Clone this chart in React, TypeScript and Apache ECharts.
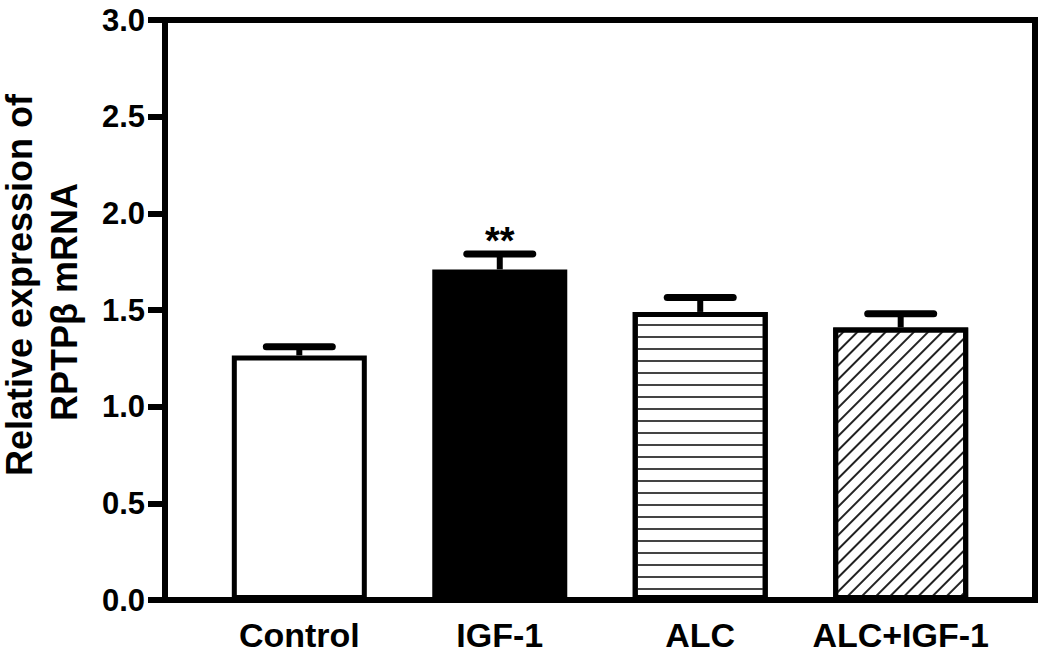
import React, { useEffect, useRef } from "react";
import * as echarts from "echarts";

const categories = ["Control", "IGF-1", "ALC", "ALC+IGF-1"];
const means = [1.265, 1.71, 1.49, 1.41];
const sems = [0.045, 0.08, 0.075, 0.07];
const significance = ["", "**", "", ""];
const yTitleLines = ["Relative expression of", "RPTPβ mRNA"];

const FONT = "'Liberation Sans', Arial, Helvetica, sans-serif";

export default function App() {
  const ref = useRef<HTMLDivElement>(null);
  useEffect(() => {
    document.body.style.margin = "0";
    const chart = echarts.init(ref.current!, null, { renderer: "svg" });
    const positions = categories.map((_, i) => i + 1);
    const barStyles = [
      { color: "#ffffff" },
      { color: "#000000" },
      {
        color: "#ffffff",
        decal: {
          symbol: "rect",
          symbolSize: 1,
          dashArrayX: [1, 0],
          dashArrayY: [1.3, 9.7],
          rotation: 0,
          color: "#444444",
          backgroundColor: "#ffffff",
        },
      },
      {
        color: "#ffffff",
        decal: {
          symbol: "rect",
          symbolSize: 1,
          dashArrayX: [1, 0],
          dashArrayY: [1.2, 7.5],
          rotation: -Math.PI / 4,
          color: "#222222",
          backgroundColor: "#ffffff",
        },
      },
    ];
    const option: any = {
      animation: false,
      backgroundColor: "#ffffff",
      grid: {
        left: 165,
        right: 15,
        top: 20,
        bottom: 63,
        show: true,
        borderColor: "#000",
        borderWidth: 6,
        backgroundColor: "transparent",
      },
      xAxis: {
        type: "value",
        min: 0.33,
        max: 4.67,
        splitLine: { show: false },
        axisLine: { show: true, lineStyle: { color: "#000", width: 6 } },
        axisTick: { show: false },
        axisLabel: {
          customValues: positions,
          formatter: (v: number) => categories[Math.round(v) - 1] ?? "",
          fontFamily: FONT,
          fontWeight: "bold",
          fontSize: 34,
          color: "#000",
          margin: 18,
        },
      },
      yAxis: {
        type: "value",
        min: 0,
        max: 3,
        interval: 0.5,
        splitLine: { show: false },
        axisLine: { show: true, lineStyle: { color: "#000", width: 6 } },
        axisTick: { show: true, length: 17, lineStyle: { color: "#000", width: 6 } },
        axisLabel: {
          formatter: (v: number) => v.toFixed(1),
          fontFamily: FONT,
          fontWeight: "bold",
          fontSize: 31,
          color: "#000",
          margin: 20,
        },
      },
      graphic: [
        {
          type: "text",
          x: 19,
          y: 285,
          rotation: Math.PI / 2,
          style: {
            text: yTitleLines[0],
            font: `bold 36px ${FONT}`,
            fill: "#000",
            align: "center",
            verticalAlign: "middle",
          },
        },
        {
          type: "text",
          x: 64,
          y: 302,
          rotation: Math.PI / 2,
          style: {
            text: yTitleLines[1],
            font: `bold 36px ${FONT}`,
            fill: "#000",
            align: "center",
            verticalAlign: "middle",
          },
        },
      ],
      series: [
        {
          type: "bar",
          barWidth: 135,
          data: means.map((m, i) => ({
            value: [positions[i], m],
            itemStyle: { ...barStyles[i], borderColor: "#000", borderWidth: 5 },
          })),
          z: 2,
        },
        {
          type: "custom",
          z: 3,
          data: means.map((m, i) => [positions[i], m, sems[i], i]),
          renderItem: (params: any, api: any) => {
            const x = api.value(0);
            const m = api.value(1);
            const e = api.value(2);
            const idx = api.value(3);
            const base = api.coord([x, m]);
            const top = api.coord([x, m + e]);
            const children: any[] = [
              {
                type: "line",
                shape: { x1: base[0], y1: base[1], x2: top[0], y2: top[1] },
                style: { stroke: "#000", lineWidth: 6 },
              },
              {
                type: "line",
                shape: { x1: top[0] - 33, y1: top[1], x2: top[0] + 33, y2: top[1] },
                style: { stroke: "#000", lineWidth: 7, lineCap: "round" },
              },
            ];
            const sig = significance[idx];
            if (sig) {
              children.push({
                type: "text",
                x: top[0],
                y: top[1] - 13,
                style: {
                  text: sig,
                  font: `bold 38px ${FONT}`,
                  fill: "#000",
                  align: "center",
                  verticalAlign: "middle",
                },
              });
            }
            return { type: "group", children };
          },
        },
      ],
    };
    chart.setOption(option);
    return () => chart.dispose();
  }, []);
  return (
    <div
      ref={ref}
      style={{ position: "fixed", left: 0, top: 0, width: 1050, height: 663 }}
    />
  );
}
